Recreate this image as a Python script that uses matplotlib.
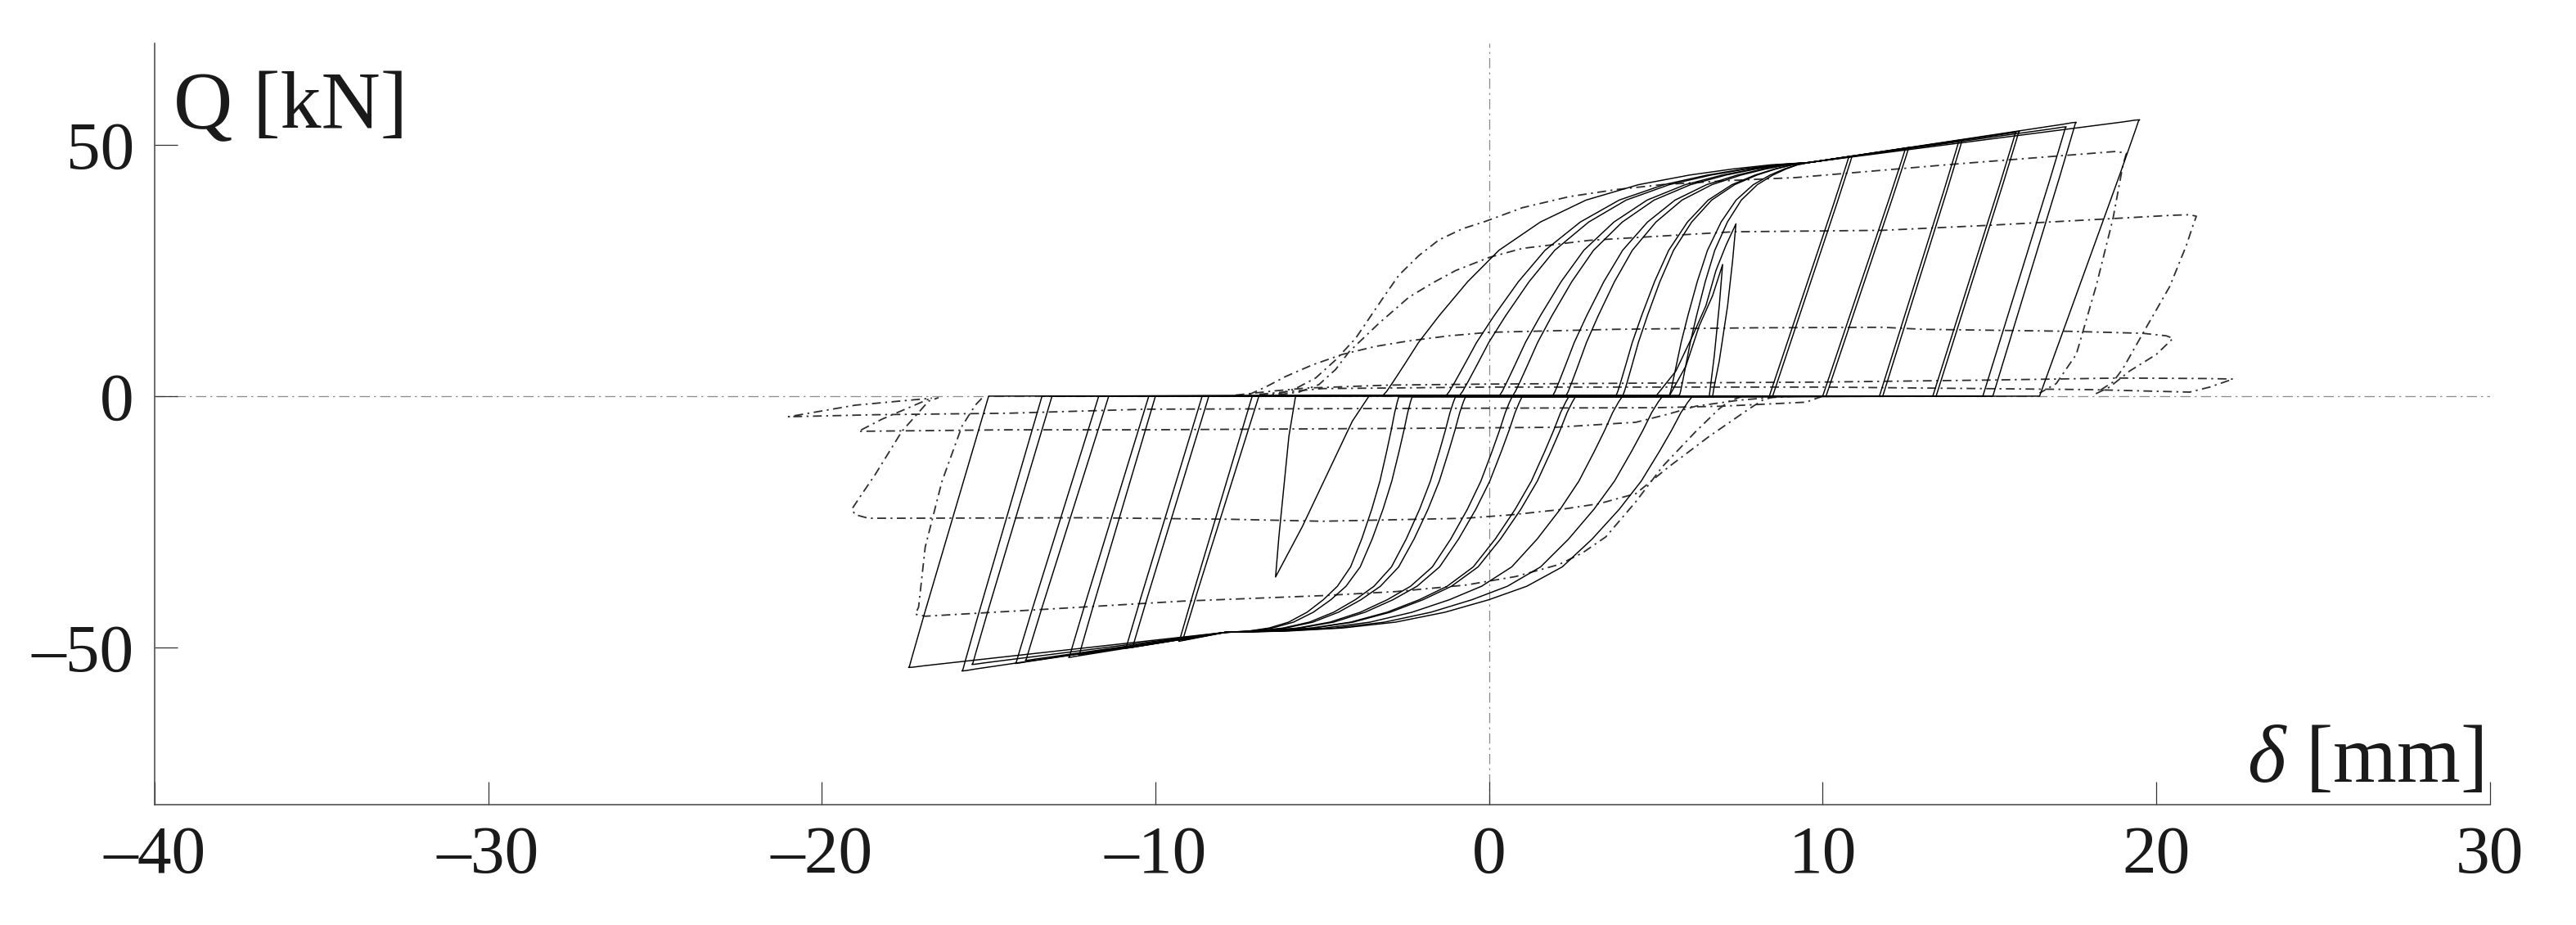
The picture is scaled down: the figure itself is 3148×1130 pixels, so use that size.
import numpy as np
import matplotlib
matplotlib.use('Agg')
import matplotlib.pyplot as plt

# --- solid cycles (sorted by amplitude) ---
pos_peak_x = [10.8, 10.9, 12.5, 12.6, 14.1, 14.2, 15.8, 15.9, 17.3, 17.6, 19.5]
pos_peak_q = [47.6, 47.8, 49.3, 49.5, 50.8, 51.0, 52.5, 52.7, 53.6, 54.5, 55.0]
pos_zero_x = [8.4, 8.5, 10.0, 10.1, 11.7, 11.8, 13.3, 13.4, 14.8, 15.1, 16.5]
neg_peak_x = [-9.2, -9.3, -10.7, -10.9, -12.3, -12.6, -13.9, -14.2, -15.5, -15.8, -17.4]
neg_peak_q = [-48.6, -48.8, -50.0, -50.2, -51.5, -52.0, -52.6, -53.2, -53.4, -54.7, -54.0]
neg_zero_x = [-6.9, -7.1, -8.4, -8.6, -10.0, -10.2, -11.4, -11.7, -13.1, -13.4, -15.0]
up_start_x = [5.7, 5.4, 4.0, 3.8, 2.3, 1.9, 0.7, 0.3, -0.9, -1.3, -3.2]
lo_start_x = [-2.7, -2.3, -1.0, -0.7, 0.7, 1.0, 2.4, 2.6, 4.0, 5.2, 6.1]
focal_up = (9.6, 46.5)
focal_lo = (-7.9, -47.0)

# shape of the outer S branches (normalised)
s_up_u = [0, 0.01, 0.025, 0.05, 0.085, 0.133, 0.2, 0.273, 0.37, 0.477, 0.6, 0.719, 0.82, 0.91, 1.0]
s_up_v = [0, 0.02, 0.06, 0.13, 0.23, 0.344, 0.49, 0.624, 0.745, 0.839, 0.905, 0.946, 0.972,
          0.99, 1.0]
s_lo_u = [0, 0.01, 0.025, 0.045, 0.071, 0.11, 0.157, 0.215, 0.279, 0.355, 0.436, 0.53, 0.636,
          0.75, 0.87, 1.0]
s_lo_v = [0, 0.025, 0.07, 0.145, 0.234, 0.36, 0.479, 0.605, 0.723, 0.805, 0.862, 0.915, 0.957,
          0.982, 0.995, 1.0]
unl_u = [0, 0.012, 0.04, 0.2, 0.45, 0.7, 0.86, 0.94, 0.98, 1.0]
unl_v = [1, 0.995, 0.965, 0.8, 0.55, 0.3, 0.14, 0.06, 0.02, 0]
env_u = [0, 0.95, 0.985]        # along envelope, last bit before the rounded peak
env_v = [0, 0.95, 0.99]

# --- first small cycles (spikes) ---
spike_x = [[5.0, 5.6, 6.1, 6.5, 6.8, 7.1, 7.4, 7.3, 7.15, 6.9, 6.75, 6.7],
           [5.4, 5.9, 6.3, 6.7, 7.0, 6.9, 6.75, 6.6],
           [-3.6, -4.1, -4.6, -5.1, -5.6, -6.0, -6.4, -6.3, -6.15, -6.0, -5.85, -5.8]]
spike_q = [[0, 5, 12, 18, 25, 30, 34.3, 27, 18, 7, 2, 0],
           [0, 6, 14, 20, 26.2, 18, 8, 0],
           [0, -5, -12, -19, -26, -31, -36, -28, -18, -8, -2, 0]]

# --- dash-dot cycles ---
dd_x = [
    [-6.9, -6.3, -5.8, -5.2, -4.6, -4.0, -3.5, -3.1, -2.7, -2.1, -1.5, -0.8, -0.1, 1.0, 2.4,
     3.8, 5.2, 7.2, 9.2, 14.0, 18.8, 19.1, 19.0, 18.7, 18.2, 17.6, 17.0, 16.5],
    [7.6, 7.2, 6.9, 6.2, 5.2, 4.4, 3.5, 2.8, 2.1, 0.8, -0.7, -2.8, -5.0, -9.2, -13.0, -16.9,
     -17.2, -17.1, -16.9, -16.4, -15.8, -15.4, -15.2],
    [-6.3, -5.7, -5.1, -4.6, -4.2, -3.3, -2.4, -1.7, -1.0, 0.0, 1.0, 3.0, 7.3, 11.8, 15.0, 18.6,
     20.5, 21.0, 21.2, 21.1, 20.9, 20.4, 19.7, 19.0, 18.7, 18.3],
    [8.6, 8.2, 7.8, 6.6, 5.4, 4.4, 3.3, 2.1, 0.7, -0.7, -5.0, -7.8, -12.0, -17.6, -18.6, -19.0,
     -19.1, -18.8, -18.4, -17.6, -16.8, -16.5],
    [-7.2, -6.7, -6.1, -5.3, -4.4, -3.4, -2.4, -1.2, 0.0, 3.8, 8.0, 11.8, 13.0, 17.4, 19.6, 20.3,
     20.5, 20.0, 19.2, 18.6, 18.1],
    [9.2, 8.4, 7.5, 6.2, 5.3, 4.4, 2.0, -2.0, -5.0, -10.3, -14.4, -18.9, -18.2, -16.8],
    [-7.6, -6.5, -5.5, -3.0, 0.0, 5.0, 10.0, 15.0, 18.9, 21.5, 22.3, 21.6, 21.0, 18.0, 10.0, 0.0,
     -5.0, -7.0],
    [10.0, 9.5, 7.0, 5.0, 0.0, -5.0, -10.3, -14.4, -18.4, -21.0, -19.0, -16.7],
]
dd_q = [
    [0.1, 0.5, 1.5, 3.6, 7.2, 11.5, 16.4, 20.3, 24.1, 28.0, 31.1, 33.3, 34.8, 37.5, 39.7, 41.1,
     42.1, 42.9, 43.5, 46.2, 48.7, 48.3, 46.0, 35.3, 22.0, 8.3, 2.5, 0.6],
    [0, -1.0, -2.5, -7, -14, -21, -28, -31.2, -33.5, -35.9, -37.6, -38.9, -39.7, -40.8, -42.3,
     -43.8, -43.4, -42, -30, -17, -6, -1.8, -0.4],
    [0.3, 0.8, 2.3, 5.3, 8.8, 14.5, 19.7, 22.5, 25.0, 27.6, 29.4, 31.0, 32.7, 33.0, 34.0, 35.3,
     36.0, 36.1, 35.8, 34.0, 30.0, 21.8, 13.7, 5.5, 2.8, 1.1],
    [0, -0.8, -2.5, -8, -14, -19.4, -21.4, -22.6, -23.6, -24.3, -24.9, -24.5, -24.2, -24.3,
     -24.3, -23.6, -22.5, -19.5, -15.6, -7, -1, -0.3],
    [0.3, 1.8, 3.9, 6.2, 8.3, 9.9, 11.0, 12.0, 12.7, 13.3, 13.6, 13.7, 13.3, 12.9, 12.5, 12.0,
     11.5, 8.3, 5.0, 1.8, 0.2],
    [0, -0.3, -0.8, -2.0, -3.7, -5.2, -6.2, -6.4, -6.5, -6.7, -6.7, -7.0, -4.6, -0.6],
    [0.2, 1.0, 1.6, 2.2, 2.4, 2.6, 2.8, 3.2, 3.6, 3.5, 3.4, 1.8, 0.8, 1.3, 1.8, 1.8, 1.5, 0.3],
    [0, -1.2, -2.0, -2.3, -2.4, -2.5, -2.6, -3.4, -3.7, -4.1, -1.8, -0.4],
]

x_ticks = [-40, -30, -20, -10, 0, 10, 20, 30]
y_ticks = [-50, 0, 50]

plt.rcParams['font.family'] = ['Liberation Serif', 'DejaVu Serif']
plt.rcParams['axes.unicode_minus'] = False
plt.rcParams['mathtext.fontset'] = 'custom'
plt.rcParams['mathtext.it'] = 'Liberation Serif:italic'
plt.rcParams['mathtext.rm'] = 'Liberation Serif'


def solid_cycle(i):
    xs, qs = [], []
    u, v = np.array(s_up_u), np.array(s_up_v)
    xs += list(up_start_x[i] + (focal_up[0] - up_start_x[i]) * u)
    qs += list(focal_up[1] * v)
    e, f = np.array(env_u[1:]), np.array(env_v[1:])
    xs += list(focal_up[0] + (pos_peak_x[i] - focal_up[0]) * e)
    qs += list(focal_up[1] + (pos_peak_q[i] - focal_up[1]) * f)
    a, b = np.array(unl_u), np.array(unl_v)
    xs += list(pos_peak_x[i] + (pos_zero_x[i] - pos_peak_x[i]) * a)
    qs += list(pos_peak_q[i] * b)
    xs.append(lo_start_x[i]); qs.append(-0.15)
    u, v = np.array(s_lo_u), np.array(s_lo_v)
    xs += list(lo_start_x[i] + (focal_lo[0] - lo_start_x[i]) * u)
    qs += list(focal_lo[1] * v)
    xs += list(focal_lo[0] + (neg_peak_x[i] - focal_lo[0]) * e)
    qs += list(focal_lo[1] + (neg_peak_q[i] - focal_lo[1]) * f)
    xs += list(neg_peak_x[i] + (neg_zero_x[i] - neg_peak_x[i]) * a)
    qs += list(neg_peak_q[i] * b)
    xs.append(up_start_x[i]); qs.append(0.15)
    return xs, qs


fig = plt.figure(figsize=(31.48, 11.30), dpi=100)
ax = fig.add_axes([0.0600, 0.1301, 0.9066, 0.8230])

# reference axes through origin
ax.axvline(0, color='#8a8a8a', lw=0.9, ls=(0, (10, 4, 2, 4)), zorder=1)
ax.axhline(0, color='#8a8a8a', lw=0.9, ls=(0, (10, 4, 2, 4)), zorder=1)

for k in range(len(dd_x)):
    ax.plot(dd_x[k], dd_q[k], color='#2e2e2e', lw=1.3, ls=(0, (6, 3, 1.3, 3)), zorder=2)

for i in range(len(pos_peak_x)):
    px, pq = solid_cycle(i)
    ax.plot(px, pq, color='black', lw=1.05, zorder=3)

for k in range(len(spike_x)):
    ax.plot(spike_x[k], spike_q[k], color='black', lw=1.05, zorder=3)

ax.set_xlim(-40, 30)
ax.set_ylim(-81.3, 70.2)
ax.set_xticks(x_ticks)
ax.set_yticks(y_ticks)
ax.set_xticklabels([str(t).replace('-', '\u2013') for t in x_ticks])
ax.set_yticklabels([str(t).replace('-', '\u2013') for t in y_ticks])
ax.tick_params(direction='in', length=20, width=0.9, color='#333333',
               labelcolor='#1a1a1a', labelsize=60, pad=18)
for side in ['top', 'right']:
    ax.spines[side].set_visible(False)
for side in ['left', 'bottom']:
    ax.spines[side].set_color('#444444')
    ax.spines[side].set_linewidth(1.1)

ax.text(0.008, 0.889, 'Q [kN]', transform=ax.transAxes, fontsize=72,
        ha='left', va='baseline', color='#1a1a1a')
ax.text(0.997, 0.030, r'$\delta$ [mm]', transform=ax.transAxes, fontsize=72,
        ha='right', va='baseline', color='#1a1a1a')

fig.savefig('out.png', dpi=100)
